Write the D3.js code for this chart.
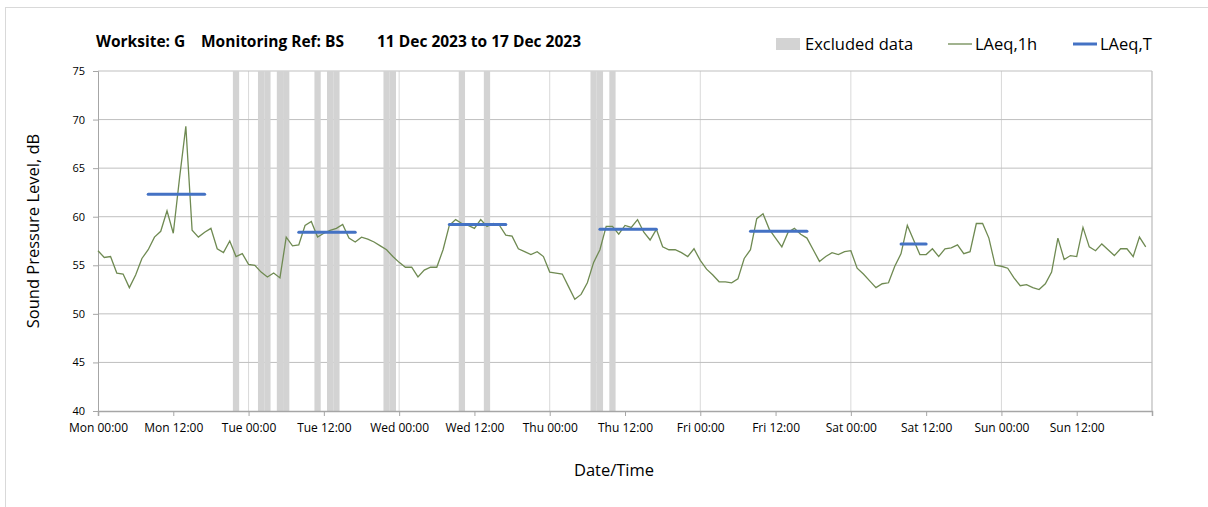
<!DOCTYPE html>
<html>
<head>
<meta charset="utf-8">
<script src="https://cdn.jsdelivr.net/npm/d3@7"></script>
<style>
  body { margin: 0; background: #fff; }
  text { font-family: 'Open Sans', Lato, sans-serif; fill: #000; }
</style>
</head>
<body>
<svg id="chart" width="1208" height="507"></svg>
<script>
// hourly LAeq,1h from Mon 00:00 to Sun 23:00
const lAeq1h = [
  56.5, 55.8, 55.9, 54.2, 54.1, 52.7, 54.0, 55.7, 56.6, 57.9,
  58.5, 60.6, 58.3, 64.0, 69.3, 58.6, 57.9, 58.4, 58.8, 56.7,
  56.3, 57.5, 55.9, 56.2, 55.1, 55.0, 54.3, 53.8, 54.2, 53.7,
  57.9, 57.0, 57.1, 59.1, 59.5, 57.9, 58.3, 58.6, 58.8, 59.2,
  57.8, 57.4, 57.9, 57.7, 57.4, 57.0, 56.6, 55.9, 55.3, 54.8,
  54.8, 53.8, 54.5, 54.8, 54.8, 56.6, 59.1, 59.7, 59.3, 59.1,
  58.8, 59.7, 59.0, 59.3, 59.1, 58.1, 58.0, 56.7, 56.4, 56.1,
  56.4, 55.9, 54.3, 54.2, 54.1, 52.8, 51.5, 52.0, 53.2, 55.3,
  56.6, 59.0, 59.0, 58.2, 59.1, 58.9, 59.7, 58.4, 57.6, 58.7,
  56.9, 56.6, 56.6, 56.3, 55.9, 56.7, 55.5, 54.6, 54.0, 53.3,
  53.3, 53.2, 53.6, 55.7, 56.6, 59.8, 60.3, 58.7, 57.8, 56.9,
  58.4, 58.8, 58.2, 57.8, 56.6, 55.4, 55.9, 56.3, 56.1, 56.4,
  56.5, 54.7, 54.1, 53.4, 52.7, 53.1, 53.2, 54.9, 56.2, 59.1,
  57.6, 56.1, 56.1, 56.7, 55.9, 56.7, 56.8, 57.1, 56.2, 56.4,
  59.3, 59.3, 57.8, 55.0, 54.9, 54.7, 53.7, 52.9, 53.0, 52.7,
  52.5, 53.1, 54.3, 57.8, 55.6, 56.0, 55.9, 58.9, 56.9, 56.5,
  57.2, 56.6, 56.0, 56.7, 56.7, 55.9, 57.9, 56.9
]

// hours flagged as excluded data
const excludedHours = [22, 26, 27, 29, 30, 35, 37, 38, 46, 47, 58, 62, 79, 80, 82]

// LAeq,T periods (start hour, end hour, level)
const periodStart = [8, 32, 56, 80, 104, 128]
const periodEnd = [17, 41, 65, 89, 113, 132]
const periodLevel = [62.3, 58.4, 59.2, 58.7, 58.5, 57.2]

const tickLabels = ['Mon 00:00', 'Mon 12:00', 'Tue 00:00', 'Tue 12:00', 'Wed 00:00', 'Wed 12:00',
  'Thu 00:00', 'Thu 12:00', 'Fri 00:00', 'Fri 12:00', 'Sat 00:00', 'Sat 12:00', 'Sun 00:00', 'Sun 12:00']
const yTicks = [40, 45, 50, 55, 60, 65, 70, 75]

const svg = d3.select('#chart')
const plotLeft = 98
const plotRight = 1152
const plotTop = 71
const plotBottom = 411

const x = d3.scaleLinear().domain([0, 168]).range([plotLeft, plotRight])
const y = d3.scaleLinear().domain([40, 75]).range([plotBottom, plotTop])

// Outer chart border
svg.append('rect')
  .attr('x', 5.5).attr('y', 7.5)
  .attr('width', 1220).attr('height', 520)
  .attr('fill', 'none')
  .attr('stroke', '#d9d9d9')

// Vertical gridlines (every day)
svg.append('g')
  .selectAll('line')
  .data(d3.range(24, 169, 24))
  .join('line')
  .attr('x1', d => x(d)).attr('x2', d => x(d))
  .attr('y1', plotTop).attr('y2', plotBottom)
  .attr('stroke', '#d9d9d9')

// Horizontal gridlines
svg.append('g')
  .selectAll('line')
  .data(yTicks.slice(1))
  .join('line')
  .attr('x1', plotLeft).attr('x2', plotRight)
  .attr('y1', d => y(d)).attr('y2', d => y(d))
  .attr('stroke', '#bfbfbf')

// Excluded data bands
svg.append('g')
  .selectAll('rect')
  .data(excludedHours)
  .join('rect')
  .attr('x', d => x(d - 0.5))
  .attr('width', x(1) - x(0))
  .attr('y', plotTop)
  .attr('height', plotBottom - plotTop)
  .attr('fill', '#d3d3d3')

// Axes
const xAxis = svg.append('g')
  .attr('transform', `translate(0,${plotBottom})`)
  .call(d3.axisBottom(x)
    .tickValues(d3.range(0, 169, 12))
    .tickSize(5)
    .tickFormat((d, i) => tickLabels[i] || ''))
xAxis.select('.domain').attr('stroke', '#a6a6a6').attr('stroke-width', 1.5)
xAxis.selectAll('.tick line').attr('stroke', '#a6a6a6')
xAxis.selectAll('.tick text')
  .attr('dy', '1.05em')
  .style('font-family', "'Open Sans', sans-serif")
  .style('font-size', '12px')
  .style('fill', '#000')

const yAxis = svg.append('g')
  .attr('transform', `translate(${plotLeft},0)`)
  .call(d3.axisLeft(y).tickValues(yTicks).tickSize(5).tickPadding(8))
yAxis.select('.domain').attr('stroke', '#a6a6a6')
yAxis.selectAll('.tick line').attr('stroke', '#a6a6a6')
yAxis.selectAll('.tick text')
  .style('font-family', "'Open Sans', sans-serif")
  .style('font-size', '11px')
  .style('fill', '#000')

// Right border of plot
svg.append('line')
  .attr('x1', plotRight).attr('x2', plotRight)
  .attr('y1', plotTop).attr('y2', plotBottom)
  .attr('stroke', '#bfbfbf')

// LAeq,1h line
const line = d3.line()
  .x((d, i) => x(i))
  .y(d => y(d))
svg.append('path')
  .datum(lAeq1h)
  .attr('d', line)
  .attr('fill', 'none')
  .attr('stroke', '#6f8a52')
  .attr('stroke-width', 1.3)

// LAeq,T periods
svg.append('g')
  .selectAll('line')
  .data(periodLevel)
  .join('line')
  .attr('x1', (d, i) => x(periodStart[i]))
  .attr('x2', (d, i) => x(periodEnd[i]))
  .attr('y1', d => y(d)).attr('y2', d => y(d))
  .attr('stroke', '#4472c4')
  .attr('stroke-width', 3)
  .attr('stroke-linecap', 'round')

// Titles
const title = svg.append('g').style('font-weight', 'bold').style('font-size', '15.5px')
title.append('text').attr('x', 96).attr('y', 47).text('Worksite: G')
title.append('text').attr('x', 201).attr('y', 47).text('Monitoring Ref: BS')
title.append('text').attr('x', 377).attr('y', 47).text('11 Dec 2023 to 17 Dec 2023')

svg.append('text')
  .attr('transform', 'translate(39,231) rotate(-90)')
  .attr('text-anchor', 'middle')
  .style('font-size', '16.5px')
  .text('Sound Pressure Level, dB')

svg.append('text')
  .attr('x', 614).attr('y', 476)
  .attr('text-anchor', 'middle')
  .style('font-size', '16.5px')
  .text('Date/Time')

// Legend
const legend = svg.append('g').style('font-size', '16.5px')
legend.append('rect').attr('x', 776).attr('y', 38).attr('width', 24).attr('height', 12).attr('fill', '#d3d3d3')
legend.append('text').attr('x', 805).attr('y', 50).text('Excluded data')
legend.append('line').attr('x1', 948).attr('x2', 972).attr('y1', 44).attr('y2', 44)
  .attr('stroke', '#6f8a52').attr('stroke-width', 1.3)
legend.append('text').attr('x', 975).attr('y', 50).text('LAeq,1h')
legend.append('line').attr('x1', 1073).attr('x2', 1097).attr('y1', 44).attr('y2', 44)
  .attr('stroke', '#4472c4').attr('stroke-width', 3)
legend.append('text').attr('x', 1100).attr('y', 50).text('LAeq,T')
</script>
</body>
</html>
